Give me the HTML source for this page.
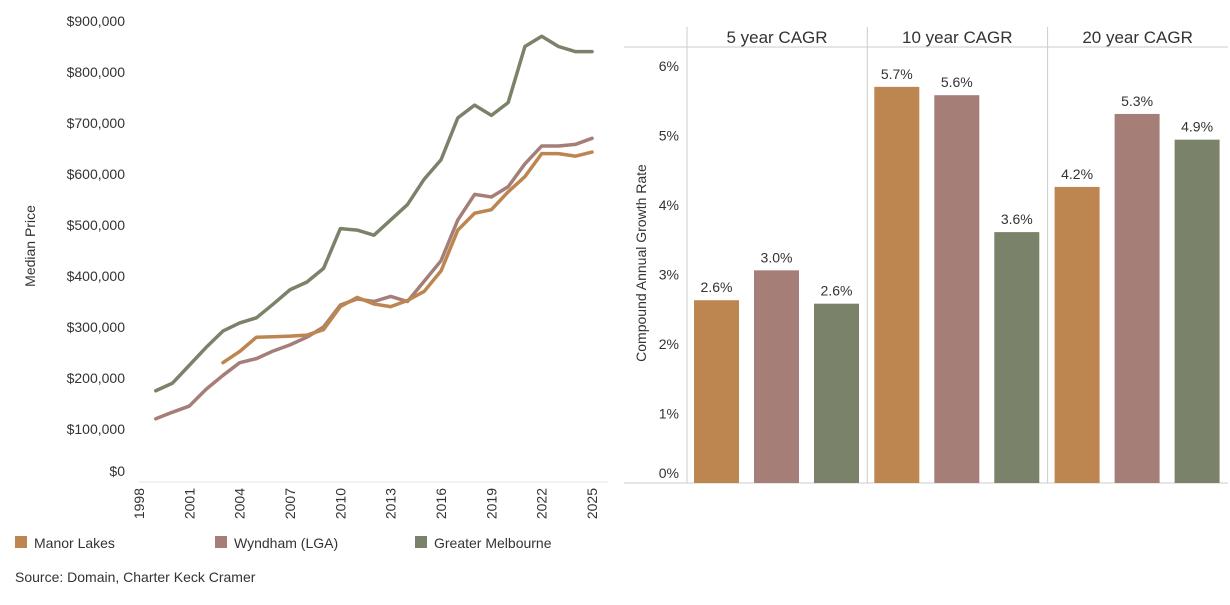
<!DOCTYPE html>
<html><head><meta charset="utf-8"><style>
body{margin:0;background:#fff;font-family:"Liberation Sans",sans-serif;}
svg text{font-family:"Liberation Sans",sans-serif;fill:#333;}
</style></head><body>
<svg id="c" width="1230" height="600">
<g id="left"></g>
<g id="right"></g>
<g>
<rect x="15" y="536" width="12" height="12" fill="#BD8650"/>
<text x="34" y="548" font-size="14">Manor Lakes</text>
<rect x="215" y="536" width="12" height="12" fill="#A67E78"/>
<text x="234" y="548" font-size="14">Wyndham (LGA)</text>
<rect x="415" y="536" width="12" height="12" fill="#7A8369"/>
<text x="434" y="548" font-size="14">Greater Melbourne</text>
</g>
<text x="15" y="582" font-size="14">Source: Domain, Charter Keck Cramer</text>
</svg>
<script>
const years=[1999,2000,2001,2002,2003,2004,2005,2006,2007,2008,2009,2010,2011,2012,2013,2014,2015,2016,2017,2018,2019,2020,2021,2022,2023,2024,2025];
const melb=[175,190,225,260,292,308,318,345,373,388,415,493,490,480,510,540,590,628,710,735,715,740,850,870,850,840,840];
const wyndham=[120,133,145,178,205,230,238,253,265,280,300,343,355,350,360,350,390,430,510,560,555,575,620,655,655,658,670];
const manorYears=[2003,2004,2005,2006,2007,2008,2009,2010,2011,2012,2013,2014,2015,2016,2017,2018,2019,2020,2021,2022,2023,2024,2025];
const manor=[230,252,280,281,282,284,295,340,358,345,340,352,370,410,490,523,530,565,595,640,640,635,643];
const yTicks=[0,100,200,300,400,500,600,700,800,900];
const xTicks=[1998,2001,2004,2007,2010,2013,2016,2019,2022,2025];
const periods=["5 year CAGR","10 year CAGR","20 year CAGR"];
const cagrManor=[2.63,5.70,4.26];
const cagrWyndham=[3.06,5.58,5.31];
const cagrMelb=[2.58,3.61,4.94];
const labelManor=["2.6%","5.7%","4.2%"];
const labelWyndham=["3.0%","5.6%","5.3%"];
const labelMelb=["2.6%","3.6%","4.9%"];
const pTicks=[0,1,2,3,4,5,6];

const NS="http://www.w3.org/2000/svg";
function mk(p,t,a){const e=document.createElementNS(NS,t);for(const k in a)e.setAttribute(k,a[k]);p.appendChild(e);return e;}
const X=y=>139+(y-1998)*16.78;
const Y=v=>480-v*0.51;
const L=document.getElementById('left');
mk(L,'line',{x1:139,y1:482,x2:608,y2:482,stroke:'#e6e6e6'});
yTicks.forEach(v=>{const t=mk(L,'text',{x:125,y:v===0?Y(v)-4:Y(v)+5,'text-anchor':'end','font-size':14});


t.textContent='$'+(v===0?'0':v+',000');});
xTicks.forEach(y=>{const t=mk(L,'text',{x:0,y:0,'font-size':14,'text-anchor':'end',transform:`translate(${X(y)+5},488) rotate(-90)`});


t.textContent=y;});
const yt=mk(L,'text',{x:0,y:0,'font-size':14,'text-anchor':'middle',transform:'translate(35,246) rotate(-90)'});


yt.textContent='Median Price';
function line(xs,vs,c,n){const p=mk(L,'polyline',{points:xs.map((y,i)=>X(y)+','+Y(vs[i])).join(' '),fill:'none',stroke:c,'stroke-width':3.5,'stroke-linejoin':'round','stroke-linecap':'round'});

}
line(years,melb,'#7A8369','line-greater-melbourne');
line(years,wyndham,'#A67E78','line-wyndham');
line(manorYears,manor,'#BD8650','line-manor-lakes');

const R=document.getElementById('right');
const PY=v=>483-v*69.5;
mk(R,'line',{x1:624,y1:47,x2:1228,y2:47,stroke:'#ccc'});
mk(R,'line',{x1:624,y1:483,x2:1228,y2:483,stroke:'#ccc'});
pTicks.forEach(v=>{const t=mk(R,'text',{x:679,y:v===0?PY(v)-5:PY(v)+5,'text-anchor':'end','font-size':14});


t.textContent=v+'%';});
const rt=mk(R,'text',{x:0,y:0,'font-size':14,'text-anchor':'middle',transform:'translate(646,263) rotate(-90)'});


rt.textContent='Compound Annual Growth Rate';
const series=[[cagrManor,labelManor,'#BD8650','manor-lakes'],[cagrWyndham,labelWyndham,'#A67E78','wyndham'],[cagrMelb,labelMelb,'#7A8369','greater-melbourne']];
periods.forEach((p,i)=>{const x0=687+i*180.3;
mk(R,'line',{x1:x0,y1:27,x2:x0,y2:483,stroke:'#ccc'});
const h=mk(R,'text',{x:x0+90,y:43,'text-anchor':'middle','font-size':17});


h.textContent=p;
series.forEach((s,j)=>{const v=s[0][i];const bx=x0+7+j*60;
const b=mk(R,'rect',{x:bx,y:PY(v),width:45,height:483-PY(v),fill:s[2]});


const l=mk(R,'text',{x:bx+22.5,y:PY(v)-8,'text-anchor':'middle','font-size':14});


l.textContent=s[1][i];});});
</script>
</body></html>
